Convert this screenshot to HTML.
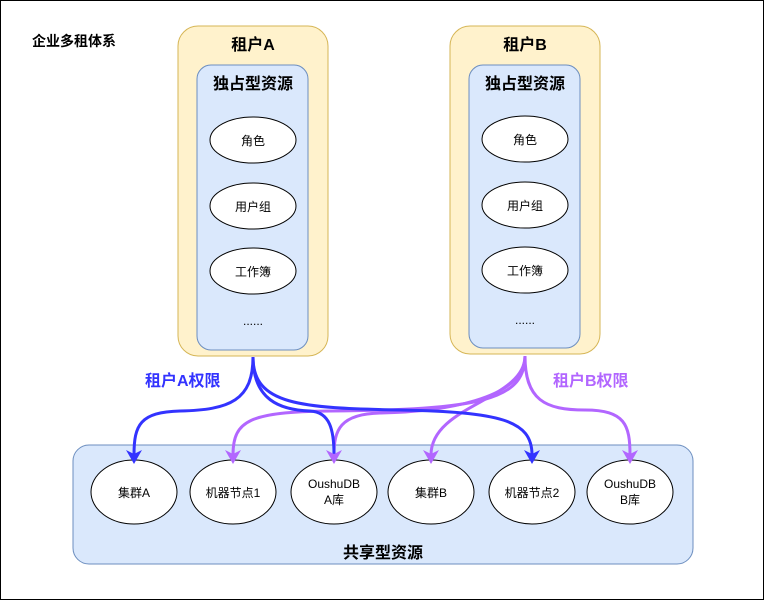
<!DOCTYPE html>
<html><head><meta charset="utf-8"><style>
body{margin:0;width:764px;height:600px;overflow:hidden;background:#fff;font-family:"Liberation Sans","Noto Sans CJK SC",sans-serif}
</style></head><body>
<svg width="764" height="600" xmlns="http://www.w3.org/2000/svg" font-family="Liberation Sans, Noto Sans CJK SC, sans-serif">
<rect x="0.5" y="0.5" width="763" height="599" fill="#fff" stroke="#000"/>
<text x="32" y="46" font-size="14" font-weight="bold">企业多租体系</text>
<g>
<rect x="178" y="26" width="150" height="330" rx="20" fill="#fff2cc" stroke="#d6b656"/>
<text x="253" y="50" font-size="16" font-weight="bold" text-anchor="middle">租户A</text>
<rect x="197" y="65" width="111" height="285" rx="14" fill="#dae8fc" stroke="#6c8ebf"/>
<text x="253" y="89" font-size="16" font-weight="bold" text-anchor="middle">独占型资源</text>
<ellipse cx="253" cy="140" rx="43" ry="23" fill="#fff" stroke="#000"/><text x="253" y="145" font-size="12" text-anchor="middle">角色</text>
<ellipse cx="253" cy="206" rx="43" ry="23" fill="#fff" stroke="#000"/><text x="253" y="211" font-size="12" text-anchor="middle">用户组</text>
<ellipse cx="253" cy="271" rx="43" ry="23" fill="#fff" stroke="#000"/><text x="253" y="276" font-size="12" text-anchor="middle">工作簿</text>
<text x="253" y="325" font-size="12" text-anchor="middle">......</text>
</g>
<g>
<rect x="450" y="26" width="150" height="328" rx="20" fill="#fff2cc" stroke="#d6b656"/>
<text x="525" y="50" font-size="16" font-weight="bold" text-anchor="middle">租户B</text>
<rect x="469" y="65" width="111" height="283" rx="14" fill="#dae8fc" stroke="#6c8ebf"/>
<text x="525" y="89" font-size="16" font-weight="bold" text-anchor="middle">独占型资源</text>
<ellipse cx="525" cy="139" rx="43" ry="23" fill="#fff" stroke="#000"/><text x="525" y="144" font-size="12" text-anchor="middle">角色</text>
<ellipse cx="525" cy="205" rx="43" ry="23" fill="#fff" stroke="#000"/><text x="525" y="210" font-size="12" text-anchor="middle">用户组</text>
<ellipse cx="525" cy="270" rx="43" ry="23" fill="#fff" stroke="#000"/><text x="525" y="275" font-size="12" text-anchor="middle">工作簿</text>
<text x="525" y="324" font-size="12" text-anchor="middle">......</text>
</g>
<rect x="73" y="445" width="620" height="119" rx="16" fill="#dae8fc" stroke="#6c8ebf"/>
<text x="383" y="558" font-size="16" font-weight="bold" text-anchor="middle">共享型资源</text>
<g fill="#fff" stroke="#000">
<ellipse cx="134" cy="492" rx="43" ry="32"/><ellipse cx="233" cy="492" rx="43" ry="32"/><ellipse cx="334" cy="492" rx="43" ry="32"/>
<ellipse cx="431" cy="492" rx="43" ry="32"/><ellipse cx="532" cy="492" rx="43" ry="32"/><ellipse cx="630" cy="492" rx="43" ry="32"/>
</g>
<g font-size="12" text-anchor="middle">
<text x="134" y="497">集群A</text><text x="233" y="497">机器节点1</text>
<text x="334" y="488">OushuDB</text><text x="334" y="504">A库</text>
<text x="431" y="497">集群B</text><text x="532" y="497">机器节点2</text>
<text x="630" y="488">OushuDB</text><text x="630" y="504">B库</text>
</g>
<g fill="none" stroke-width="3">
<g stroke="#b266ff">
<path d="M525 356 C525 400 480 410 330 411 C250 412 233 420 233 455"/>
<path d="M525 356 C525 400 440 412 380 413 C340 414 334 430 334 455"/>
<path d="M525 356 C525 400 431 405 431 455"/>
<path d="M525 356 C525 400 545 410 585 410 C625 410 630 425 630 455"/>
</g>
<g stroke="#3333ff">
<path d="M253 357 C253 400 230 410 180 411 C140 412 134 425 134 455"/>
<path d="M253 357 C253 400 280 410 310 411 C330 412 334 430 334 455"/>
<path d="M253 357 C253 405 300 408 400 410 C500 412 532 420 532 455"/>
</g>
</g>
<g fill="#b266ff"><path d="M225 450 L233 464 L241 450 L233 454Z"/><path d="M326 450 L334 464 L342 450 L334 454Z"/><path d="M423 450 L431 464 L439 450 L431 454Z"/><path d="M622 450 L630 464 L638 450 L630 454Z"/></g>
<g fill="#3333ff"><path d="M126 450 L134 464 L142 450 L134 454Z"/><path d="M524 450 L532 464 L540 450 L532 454Z"/></g>
<text x="145" y="386" font-size="16" font-weight="bold" fill="#3333ff">租户A权限</text>
<text x="553" y="386" font-size="16" font-weight="bold" fill="#b266ff">租户B权限</text>
</svg>
</body></html>
